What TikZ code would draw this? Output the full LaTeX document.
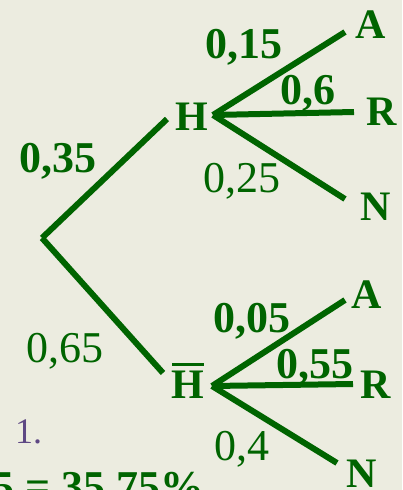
\documentclass[tikz,border=0pt]{standalone}
\usepackage{fontspec}
\setmainfont{Liberation Serif}
\definecolor{treegreen}{RGB}{0,100,0}
\definecolor{paper}{RGB}{236,236,224}
\definecolor{notepurple}{RGB}{94,72,132}
\tikzset{
  branch/.style={treegreen, line width=6pt},
  prob/.style={treegreen, anchor=base, inner sep=0pt, font=\fontsize{44}{48}\selectfont},
  probbold/.style={prob, font=\fontsize{44}{48}\selectfont\bfseries},
  outcome/.style={treegreen, anchor=base, inner sep=0pt, font=\fontsize{42}{46}\selectfont\bfseries}
}
\begin{document}
\begin{tikzpicture}[x=1pt,y=-1pt]
% background and frame
\fill[paper] (0,0) rectangle (402,490);
\useasboundingbox (0,0) rectangle (402,490);
\clip (0,0) rectangle (402,490);

% junction points of the tree
\coordinate (root) at (42,238);
\coordinate (hEnd) at (167,119);
\coordinate (hbEnd) at (163,373);
\coordinate (hFork) at (213,115);
\coordinate (hbFork) at (212,386);
\coordinate (hA) at (345,32);
\coordinate (hR) at (354,112);
\coordinate (hN) at (345,199);
\coordinate (hbA) at (345,300);
\coordinate (hbR) at (353,384);
\coordinate (hbN) at (337,463);

% first level
\draw[branch] (root) -- (hEnd);
\draw[branch] (root) -- (hbEnd);
\node[outcome] (H) at (192,130) {H};
\node[outcome] (Hbar) at (188,398) {H};
\draw[treegreen, line width=3pt] ([xshift=1pt,yshift=6pt]Hbar.north west) -- ([xshift=-1pt,yshift=6pt]Hbar.north east);
\node[probbold] (pH) at (58,172) {0,35};
\node[prob] (pHbar) at (65,362) {0,65};

% branches after H
\draw[branch] (hFork) -- (hA);
\draw[branch] (hFork) -- (hR);
\draw[branch] (hFork) -- (hN);
\node[outcome] (A1) at (371,38) {A};
\node[outcome] (R1) at (382,125) {R};
\node[outcome] (N1) at (376,220) {N};
\node[probbold] (pA1) at (244,58) {0,15};
\node[probbold] (pR1) at (308,104) {0,6};
\node[prob] (pN1) at (242,192) {0,25};

% branches after H bar
\draw[branch] (hbFork) -- (hbA);
\draw[branch] (hbFork) -- (hbR);
\draw[branch] (hbFork) -- (hbN);
\node[outcome] (A2) at (367,308) {A};
\node[outcome] (R2) at (376,398) {R};
\node[outcome] (N2) at (362,487) {N};
\node[probbold] (pA2) at (252,332) {0,05};
\node[probbold] (pR2) at (315,378) {0,55};
\node[prob] (pN2) at (242,460) {0,4};

% text cut by the frame
\node[notepurple, anchor=base west, inner sep=0pt, font=\fontsize{36}{40}\selectfont] (note) at (15,443) {1.};
\node[treegreen, anchor=base west, inner sep=0pt, font=\fontsize{44}{48}\selectfont\bfseries] (result) at (-8,501) {5 = 35,75\%};
\end{tikzpicture}
\end{document}
